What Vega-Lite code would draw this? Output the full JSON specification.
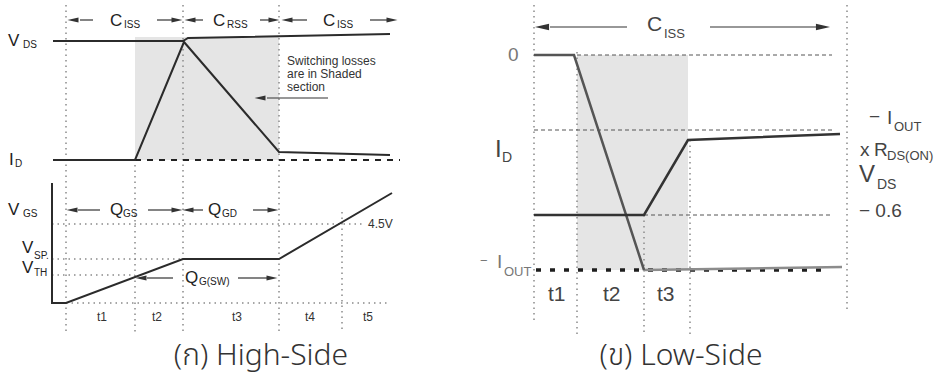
{
"$schema": "https://vega.github.io/schema/vega-lite/v6.json",
"width": 947, "height": 382, "padding": 0, "autosize": {"type": "none"},
"background": "white",
"config": {"view": {"stroke": null}},
"datasets": {
"paths": [
{"id":"VDSL","k":"sig","o":1,"x":53,"y":41},{"id":"VDSL","k":"sig","o":2,"x":183,"y":41},{"id":"VDSL","k":"sig","o":3,"x":188,"y":38},{"id":"VDSL","k":"sig","o":4,"x":390,"y":34},
{"id":"IDL","k":"sig","o":1,"x":53,"y":160},{"id":"IDL","k":"sig","o":2,"x":135,"y":160},{"id":"IDL","k":"sig","o":3,"x":184,"y":42},{"id":"IDL","k":"sig","o":4,"x":279,"y":152},{"id":"IDL","k":"sig","o":5,"x":390,"y":155},
{"id":"VGS","k":"sig","o":1,"x":52,"y":183},{"id":"VGS","k":"sig","o":2,"x":52,"y":303},{"id":"VGS","k":"sig","o":3,"x":66,"y":303},{"id":"VGS","k":"sig","o":4,"x":183,"y":259},{"id":"VGS","k":"sig","o":5,"x":279,"y":259},{"id":"VGS","k":"sig","o":6,"x":392,"y":193},
{"id":"DL","k":"dash","o":1,"x":135,"y":160},{"id":"DL","k":"dash","o":2,"x":400,"y":160},
{"id":"g1","k":"dot","o":1,"x":66,"y":5},{"id":"g1","k":"dot","o":2,"x":66,"y":332},
{"id":"g2","k":"dot","o":1,"x":135,"y":165},{"id":"g2","k":"dot","o":2,"x":135,"y":332},
{"id":"g3","k":"dot","o":1,"x":183,"y":5},{"id":"g3","k":"dot","o":2,"x":183,"y":332},
{"id":"g4","k":"dot","o":1,"x":279,"y":5},{"id":"g4","k":"dot","o":2,"x":279,"y":332},
{"id":"g5","k":"dot","o":1,"x":342,"y":212},{"id":"g5","k":"dot","o":2,"x":342,"y":332},
{"id":"h1","k":"dot","o":1,"x":52,"y":224},{"id":"h1","k":"dot","o":2,"x":362,"y":224},
{"id":"h2","k":"dot","o":1,"x":52,"y":259},{"id":"h2","k":"dot","o":2,"x":183,"y":259},
{"id":"h3","k":"dot","o":1,"x":52,"y":275},{"id":"h3","k":"dot","o":2,"x":135,"y":275},
{"id":"h4","k":"dot","o":1,"x":66,"y":303},{"id":"h4","k":"dot","o":2,"x":388,"y":303},
{"id":"r1","k":"dot","o":1,"x":534,"y":5},{"id":"r1","k":"dot","o":2,"x":534,"y":320},
{"id":"r2","k":"dot","o":1,"x":577,"y":52},{"id":"r2","k":"dot","o":2,"x":577,"y":335},
{"id":"r3","k":"dot","o":1,"x":644,"y":215},{"id":"r3","k":"dot","o":2,"x":644,"y":335},
{"id":"r4","k":"dot","o":1,"x":690,"y":140},{"id":"r4","k":"dot","o":2,"x":690,"y":335},
{"id":"r5","k":"dot","o":1,"x":847,"y":5},{"id":"r5","k":"dot","o":2,"x":847,"y":312},
{"id":"d1","k":"dashthin","o":1,"x":577,"y":55},{"id":"d1","k":"dashthin","o":2,"x":832,"y":55},
{"id":"d2","k":"dashthin","o":1,"x":534,"y":130},{"id":"d2","k":"dashthin","o":2,"x":832,"y":130},
{"id":"d3","k":"dashthin","o":1,"x":644,"y":215},{"id":"d3","k":"dashthin","o":2,"x":832,"y":215},
{"id":"b1","k":"dotbold","o":1,"x":536,"y":270},{"id":"b1","k":"dotbold","o":2,"x":830,"y":270},
{"id":"IDR2","k":"sigRl","o":1,"x":644,"y":270},{"id":"IDR2","k":"sigRl","o":2,"x":842,"y":267},
{"id":"IDR","k":"sigRg","o":1,"x":534,"y":55},{"id":"IDR","k":"sigRg","o":2,"x":574,"y":55},{"id":"IDR","k":"sigRg","o":3,"x":644,"y":270},
{"id":"VDSR","k":"sigR","o":1,"x":534,"y":215},{"id":"VDSR","k":"sigR","o":2,"x":644,"y":215},{"id":"VDSR","k":"sigR","o":3,"x":688,"y":140},{"id":"VDSR","k":"sigR","o":4,"x":840,"y":134},
{"id":"a1","k":"arrow","o":1,"x":80,"y":20},{"id":"a1","k":"arrow","o":2,"x":93,"y":20},
{"id":"a2","k":"arrow","o":1,"x":157,"y":20},{"id":"a2","k":"arrow","o":2,"x":172,"y":20},
{"id":"a3","k":"arrow","o":1,"x":195,"y":20},{"id":"a3","k":"arrow","o":2,"x":203,"y":20},
{"id":"a4","k":"arrow","o":1,"x":260,"y":20},{"id":"a4","k":"arrow","o":2,"x":270,"y":20},
{"id":"a5","k":"arrow","o":1,"x":292,"y":20},{"id":"a5","k":"arrow","o":2,"x":307,"y":20},
{"id":"a6","k":"arrow","o":1,"x":370,"y":20},{"id":"a6","k":"arrow","o":2,"x":387,"y":20},
{"id":"a7","k":"arrow","o":1,"x":78,"y":210},{"id":"a7","k":"arrow","o":2,"x":100,"y":210},
{"id":"a8","k":"arrow","o":1,"x":148,"y":210},{"id":"a8","k":"arrow","o":2,"x":172,"y":210},
{"id":"a9","k":"arrow","o":1,"x":193,"y":210},{"id":"a9","k":"arrow","o":2,"x":203,"y":210},
{"id":"a10","k":"arrow","o":1,"x":253,"y":210},{"id":"a10","k":"arrow","o":2,"x":268,"y":210},
{"id":"a11","k":"arrow","o":1,"x":147,"y":278},{"id":"a11","k":"arrow","o":2,"x":173,"y":278},
{"id":"a12","k":"arrow","o":1,"x":238,"y":278},{"id":"a12","k":"arrow","o":2,"x":267,"y":278},
{"id":"a13","k":"arrow","o":1,"x":267,"y":98},{"id":"a13","k":"arrow","o":2,"x":328,"y":98},
{"id":"a14","k":"arrow","o":1,"x":550,"y":27},{"id":"a14","k":"arrow","o":2,"x":627,"y":27},
{"id":"a15","k":"arrow","o":1,"x":710,"y":27},{"id":"a15","k":"arrow","o":2,"x":817,"y":27}
],
"heads": [
{"x":73,"y":20,"d":"L","p":"L"},{"x":177,"y":20,"d":"R","p":"L"},{"x":190,"y":20,"d":"L","p":"L"},{"x":274,"y":20,"d":"R","p":"L"},{"x":287,"y":20,"d":"L","p":"L"},{"x":392,"y":20,"d":"R","p":"L"},
{"x":72,"y":210,"d":"L","p":"L"},{"x":177,"y":210,"d":"R","p":"L"},{"x":188,"y":210,"d":"L","p":"L"},{"x":273,"y":210,"d":"R","p":"L"},
{"x":141,"y":278,"d":"L","p":"L"},{"x":272,"y":278,"d":"R","p":"L"},
{"x":260,"y":98,"d":"L","p":"L"},
{"x":542,"y":27,"d":"L","p":"R"},{"x":823,"y":27,"d":"R","p":"R"}
],
"shades": [
{"x":135,"xe":279,"y":37,"ye":160},
{"x":577,"xe":688,"y":55,"ye":270}
],
"labels": [
{"t":"V","x":8,"y":41,"r":"sym"},{"t":"DS","x":23,"y":45,"r":"sub"},
{"t":"I","x":9,"y":160,"r":"sym"},{"t":"D","x":15,"y":164,"r":"sub"},
{"t":"C","x":110,"y":21,"r":"sym"},{"t":"ISS","x":124,"y":25,"r":"sub"},
{"t":"C","x":213,"y":21,"r":"sym"},{"t":"RSS","x":227,"y":25,"r":"sub"},
{"t":"C","x":323,"y":21,"r":"sym"},{"t":"ISS","x":337,"y":25,"r":"sub"},
{"t":"V","x":8,"y":210,"r":"sym"},{"t":"GS","x":23,"y":214,"r":"sub"},
{"t":"V","x":22,"y":248,"r":"sym"},{"t":"SP.","x":34,"y":256,"r":"sub"},
{"t":"V","x":22,"y":268,"r":"sym"},{"t":"TH","x":34,"y":273,"r":"sub"},
{"t":"Q","x":110,"y":210,"r":"sym"},{"t":"GS","x":123,"y":214,"r":"sub"},
{"t":"Q","x":208,"y":210,"r":"sym"},{"t":"GD","x":222,"y":214,"r":"sub"},
{"t":"Q","x":185,"y":278,"r":"sym"},{"t":"G(SW)","x":199,"y":282,"r":"sub"},
{"t":"4.5V","x":368,"y":224,"r":"tick"},
{"t":"t1","x":97,"y":317,"r":"tick"},{"t":"t2","x":152,"y":317,"r":"tick"},{"t":"t3","x":232,"y":317,"r":"tick"},{"t":"t4","x":305,"y":317,"r":"tick"},{"t":"t5","x":363,"y":317,"r":"tick"},
{"t":"Switching losses","x":287,"y":61,"r":"note"},{"t":"are in Shaded","x":287,"y":74,"r":"note"},{"t":"section","x":287,"y":87,"r":"note"},
{"t":"0","x":508,"y":55,"r":"rgrey"},
{"t":"C","x":647,"y":25,"r":"rC"},{"t":"ISS","x":664,"y":34,"r":"rsub"},
{"t":"I","x":495,"y":150,"r":"rbig"},{"t":"D","x":502,"y":158,"r":"rbigsub"},
{"t":"−","x":869,"y":117,"r":"rsym"},{"t":"I","x":887,"y":118,"r":"rsym"},{"t":"OUT","x":894,"y":127,"r":"rsub"},
{"t":"x","x":860,"y":150,"r":"rsym"},{"t":"R","x":874,"y":150,"r":"rsym"},{"t":"DS(ON)","x":887,"y":156,"r":"rsub"},
{"t":"V","x":859,"y":175,"r":"rbig"},{"t":"DS","x":877,"y":185,"r":"rbigsub"},
{"t":"− 0.6","x":859,"y":211,"r":"rsym"},
{"t":"−","x":480,"y":261,"r":"rgreysub"},{"t":"I","x":497,"y":262,"r":"rgrey"},{"t":"OUT","x":504,"y":272,"r":"rgreysub"},
{"t":"t1","x":548,"y":295,"r":"rC"},{"t":"t2","x":603,"y":295,"r":"rC"},{"t":"t3","x":657,"y":295,"r":"rC"}
],
"captions": [
{"t":"(ก) High-Side","x":261,"y":356},
{"t":"(ข) Low-Side","x":681,"y":356}
]
},
"encoding": {
"x": {"field":"x","type":"quantitative","scale":{"domain":[0,947],"nice":false,"zero":false},"axis":null},
"y": {"field":"y","type":"quantitative","scale":{"domain":[0,382],"reverse":true,"nice":false,"zero":false},"axis":null}
},
"layer": [
{"data": {"name":"shades"}, "mark": {"type":"rect","color":"#e5e5e5"}, "encoding": {"x2":{"field":"xe"},"y2":{"field":"ye"}}},
{"data": {"name":"paths"}, "transform":[{"filter":"datum.k == 'dot'"}], "mark": {"type":"line","color":"#8a8a8a","strokeWidth":1.5,"strokeDash":[1.5,4]}, "encoding": {"detail":{"field":"id","type":"nominal"},"order":{"field":"o","type":"quantitative"}}},
{"data": {"name":"paths"}, "transform":[{"filter":"datum.k == 'dashthin'"}], "mark": {"type":"line","color":"#555555","strokeWidth":1,"strokeDash":[4,3]}, "encoding": {"detail":{"field":"id","type":"nominal"},"order":{"field":"o","type":"quantitative"}}},
{"data": {"name":"paths"}, "transform":[{"filter":"datum.k == 'dash'"}], "mark": {"type":"line","color":"#222222","strokeWidth":2,"strokeDash":[6,6]}, "encoding": {"detail":{"field":"id","type":"nominal"},"order":{"field":"o","type":"quantitative"}}},
{"data": {"name":"paths"}, "transform":[{"filter":"datum.k == 'dotbold'"}], "mark": {"type":"line","color":"#1e1e1e","strokeWidth":3.5,"strokeDash":[5,9]}, "encoding": {"detail":{"field":"id","type":"nominal"},"order":{"field":"o","type":"quantitative"}}},
{"data": {"name":"paths"}, "transform":[{"filter":"datum.k == 'arrow'"}], "mark": {"type":"line","color":"#333333","strokeWidth":1.2}, "encoding": {"detail":{"field":"id","type":"nominal"},"order":{"field":"o","type":"quantitative"}}},
{"data": {"name":"paths"}, "transform":[{"filter":"datum.k == 'sigRl'"}], "mark": {"type":"line","color":"#8c8c8c","strokeWidth":2.5}, "encoding": {"detail":{"field":"id","type":"nominal"},"order":{"field":"o","type":"quantitative"}}},
{"data": {"name":"paths"}, "transform":[{"filter":"datum.k == 'sigRg'"}], "mark": {"type":"line","color":"#555555","strokeWidth":2.5}, "encoding": {"detail":{"field":"id","type":"nominal"},"order":{"field":"o","type":"quantitative"}}},
{"data": {"name":"paths"}, "transform":[{"filter":"datum.k == 'sigR'"}], "mark": {"type":"line","color":"#333333","strokeWidth":2.5}, "encoding": {"detail":{"field":"id","type":"nominal"},"order":{"field":"o","type":"quantitative"}}},
{"data": {"name":"paths"}, "transform":[{"filter":"datum.k == 'sig'"}], "mark": {"type":"line","color":"#2b2b2b","strokeWidth":2}, "encoding": {"detail":{"field":"id","type":"nominal"},"order":{"field":"o","type":"quantitative"}}},
{"data": {"name":"heads"}, "transform":[{"filter":"datum.p == 'L'"}], "mark": {"type":"point","filled":true,"opacity":1,"color":"#333333","strokeWidth":0,"size":120},
 "encoding": {"shape": {"field":"d","type":"nominal","legend":null,"scale":{"domain":["L","R"],"range":["M1,-0.45L-1,0L1,0.45Z","M-1,-0.45L1,0L-1,0.45Z"]}}}},
{"data": {"name":"heads"}, "transform":[{"filter":"datum.p == 'R'"}], "mark": {"type":"point","filled":true,"opacity":1,"color":"#333333","strokeWidth":0,"size":200},
 "encoding": {"shape": {"field":"d","type":"nominal","legend":null,"scale":{"domain":["L","R"],"range":["M1,-0.4L-1,0L1,0.4Z","M-1,-0.4L1,0L-1,0.4Z"]}}}},
{"data": {"name":"labels"}, "transform":[{"filter":"datum.r == 'sym'"}], "mark": {"type":"text","align":"left","baseline":"middle","font":"Liberation Sans","fontSize":17,"color":"#222222"}, "encoding": {"text":{"field":"t","type":"nominal"}}},
{"data": {"name":"labels"}, "transform":[{"filter":"datum.r == 'sub'"}], "mark": {"type":"text","align":"left","baseline":"middle","font":"Liberation Sans","fontSize":10,"color":"#222222"}, "encoding": {"text":{"field":"t","type":"nominal"}}},
{"data": {"name":"labels"}, "transform":[{"filter":"datum.r == 'tick'"}], "mark": {"type":"text","align":"left","baseline":"middle","font":"Liberation Sans","fontSize":12,"color":"#333333"}, "encoding": {"text":{"field":"t","type":"nominal"}}},
{"data": {"name":"labels"}, "transform":[{"filter":"datum.r == 'note'"}], "mark": {"type":"text","align":"left","baseline":"middle","font":"Liberation Sans","fontSize":12,"color":"#333333"}, "encoding": {"text":{"field":"t","type":"nominal"}}},
{"data": {"name":"labels"}, "transform":[{"filter":"datum.r == 'rC'"}], "mark": {"type":"text","align":"left","baseline":"middle","font":"Liberation Sans","fontSize":21,"color":"#444444"}, "encoding": {"text":{"field":"t","type":"nominal"}}},
{"data": {"name":"labels"}, "transform":[{"filter":"datum.r == 'rsym'"}], "mark": {"type":"text","align":"left","baseline":"middle","font":"Liberation Sans","fontSize":19,"color":"#444444"}, "encoding": {"text":{"field":"t","type":"nominal"}}},
{"data": {"name":"labels"}, "transform":[{"filter":"datum.r == 'rsub'"}], "mark": {"type":"text","align":"left","baseline":"middle","font":"Liberation Sans","fontSize":13,"color":"#444444"}, "encoding": {"text":{"field":"t","type":"nominal"}}},
{"data": {"name":"labels"}, "transform":[{"filter":"datum.r == 'rbig'"}], "mark": {"type":"text","align":"left","baseline":"middle","font":"Liberation Sans","fontSize":24,"color":"#444444"}, "encoding": {"text":{"field":"t","type":"nominal"}}},
{"data": {"name":"labels"}, "transform":[{"filter":"datum.r == 'rbigsub'"}], "mark": {"type":"text","align":"left","baseline":"middle","font":"Liberation Sans","fontSize":14,"color":"#444444"}, "encoding": {"text":{"field":"t","type":"nominal"}}},
{"data": {"name":"labels"}, "transform":[{"filter":"datum.r == 'rgrey'"}], "mark": {"type":"text","align":"left","baseline":"middle","font":"Liberation Sans","fontSize":19,"color":"#777777"}, "encoding": {"text":{"field":"t","type":"nominal"}}},
{"data": {"name":"labels"}, "transform":[{"filter":"datum.r == 'rgreysub'"}], "mark": {"type":"text","align":"left","baseline":"middle","font":"Liberation Sans","fontSize":13,"color":"#777777"}, "encoding": {"text":{"field":"t","type":"nominal"}}},
{"data": {"name":"captions"}, "mark": {"type":"text","align":"center","baseline":"middle","font":"Noto Sans Thai, Noto Sans, DejaVu Sans, sans-serif","fontSize":30,"fontWeight":300,"color":"#333333"}, "encoding": {"text": {"field":"t","type":"nominal"}}}
]
}
